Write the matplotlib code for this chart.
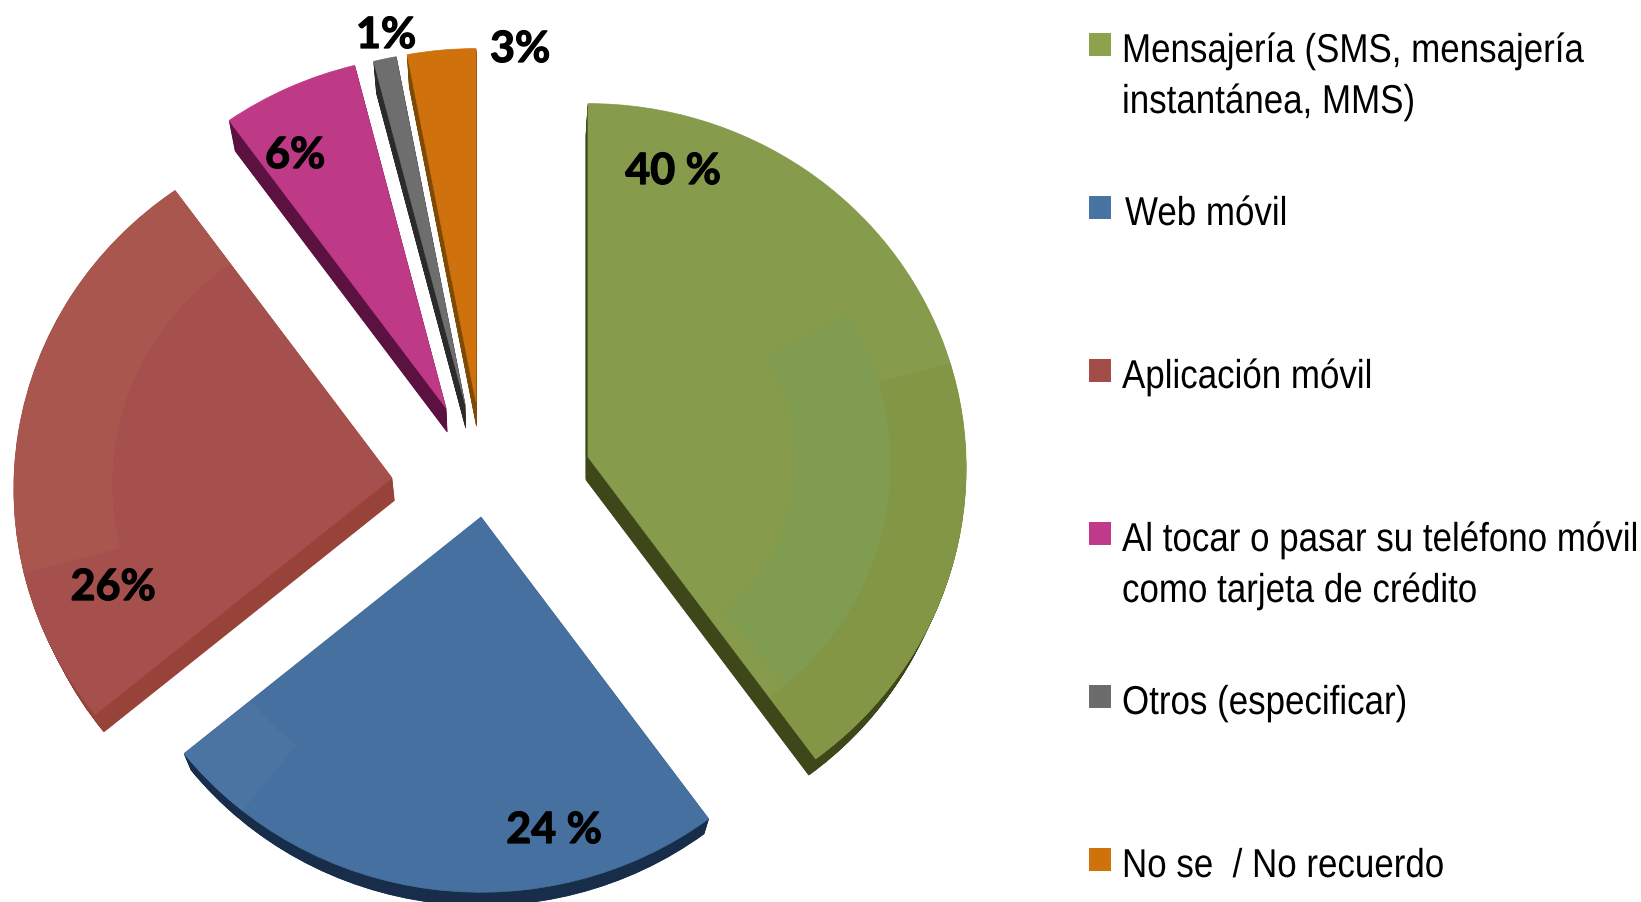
import numpy as np
import matplotlib
matplotlib.use("Agg")
import matplotlib.pyplot as plt
from matplotlib.patches import Polygon, Rectangle
from matplotlib.patheffects import AbstractPathEffect, withStroke
from matplotlib.text import Text
from matplotlib.transforms import Affine2D, Bbox

categories = ["Mensajería (SMS, mensajería\ninstantánea, MMS)", "Web móvil", "Aplicación móvil",
              "Al tocar o pasar su teléfono móvil\ncomo tarjeta de crédito", "Otros (especificar)", "No se  / No recuerdo"]
values = [40, 24, 26, 6, 1, 3]
value_labels = ["40 %", "24 %", "26%", "6%", "1%", "3%"]

top_colors = ["#879B4C", "#46709F", "#A5504C", "#BE3A87", "#6E6E6E", "#CF710C"]
side_colors = ["#3E4719", "#172D4A", "#97433A", "#5C1240", "#2B2B2B", "#7F4A05"]
legend_colors = ["#8CA24C", "#4774A3", "#A44D48", "#C0398A", "#6C6C6C", "#D0720C"]

apex = [(588, 457), (481, 517), (392, 478), (446, 408), (465, 404), (476, 402)]
label_xy = [(673, 171), (554, 830), (113, 587), (295, 155), (386, 35), (520, 49)]

# subtle facets of the 3D shading: slice, r0, r1, angle0, angle1 (clockwise from top), colour
facets = [(0, 0.80, 1.00, 75, 144, "#829645"), (0, 0.55, 0.80, 60, 140, "#7F9C50"),
          (2, 0.74, 1.00, 255, 324, "#A8564E"), (1, 0.78, 1.00, 218, 230.4, "#4C74A3")]

RX, RY, K = 378, 364, 0.03
DEPTH_S = 0.978
VANISH = (500, 1500)


class Condense(AbstractPathEffect):
    """Narrow the glyphs horizontally about the text origin."""
    def __init__(self, sx):
        super().__init__()
        self.sx = sx

    def draw_path(self, renderer, gc, tpath, affine, rgbFace=None):
        renderer.draw_path(gc, tpath, Affine2D().scale(self.sx, 1) + affine, rgbFace)


class NarrowText(Text):
    sx = 1.0

    def get_window_extent(self, renderer=None, dpi=None):
        b = super().get_window_extent(renderer, dpi)
        return Bbox.from_extents(b.x0, b.y0, b.x0 + (b.x1 - b.x0) * self.sx, b.y1)


def add_narrow(ax, x, y, s, sx, **kw):
    t = NarrowText(x, y, s, ha="left", va="baseline", **kw)
    t.sx = sx
    t.set_path_effects([Condense(sx)])
    ax.add_artist(t)
    return t


fig = plt.figure(figsize=(16.41, 9.02), dpi=100)
ax = fig.add_axes([0, 0, 1, 1])
wedges, _ = ax.pie(values, startangle=90, counterclock=False, radius=1, center=(0, 0))
ax.set_aspect("auto")
ax.set_xlim(0, 1641)
ax.set_ylim(902, 0)
ax.axis("off")


def project(pts, center):
    d = 1 + K * pts[:, 1]
    return np.column_stack((center[0] + RX * pts[:, 0] / d, center[1] - RY * pts[:, 1] / d))


vx, vy = VANISH
order = [3, 4, 5, 2, 0, 1]
for i in order:
    w = wedges[i]
    unit = w.get_path().transformed(Affine2D().scale(400)).to_polygons()[0] / 400
    top = project(unit, apex[i])
    w.remove()
    for s in np.linspace(DEPTH_S, 1, 34)[:-1]:
        low = np.column_stack((vx + s * (top[:, 0] - vx), vy + s * (top[:, 1] - vy)))
        ax.add_patch(Polygon(low, closed=True, fc=side_colors[i], ec=side_colors[i], lw=0.5))
    ax.add_patch(Polygon(top, closed=True, fc=top_colors[i], ec=top_colors[i], lw=0.5))
    for sl, r0, r1, a0, a1, col in facets:
        if sl != i:
            continue
        th = np.radians(np.linspace(a0, a1, 60))
        ring = np.concatenate((r1 * np.column_stack((np.sin(th), np.cos(th))),
                               r0 * np.column_stack((np.sin(th), np.cos(th)))[::-1]))
        ax.add_patch(Polygon(project(ring, apex[i]), closed=True, fc=col, ec="none"))

for t, (x, y) in zip(value_labels, label_xy):
    ax.text(x, y, t, ha="center", va="center", fontsize=31, fontweight="bold", family="Lato", color="black",
            path_effects=[withStroke(linewidth=0.9, foreground="black")])

sq_top = [33, 196, 359, 522, 685, 848]
baseline = [62, 225, 388, 551, 714, 877]
text_x = [1122, 1125, 1122, 1122, 1122, 1122]
for c, col, st, b, tx in zip(categories, legend_colors, sq_top, baseline, text_x):
    ax.add_patch(Rectangle((1089, st), 22, 23, fc=col, ec="none"))
    for j, line in enumerate(c.split("\n")):
        add_narrow(ax, tx, b + 51 * j, line, 0.867, fontsize=29, family="Liberation Sans", color="black")

fig.savefig("out.png", dpi=100, facecolor="white")
